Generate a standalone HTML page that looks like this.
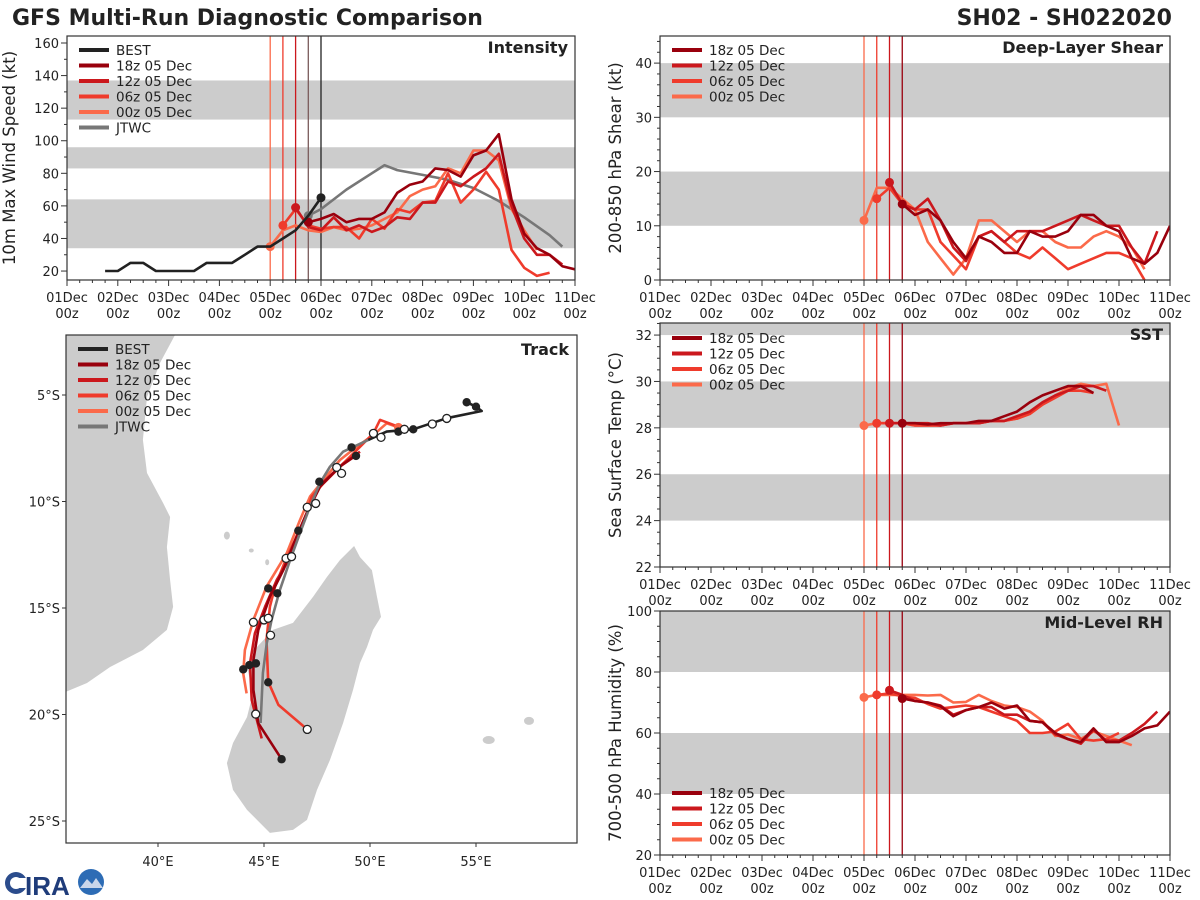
<!DOCTYPE html>
<html><head><meta charset="utf-8"><style>
body{margin:0;background:#fff;}
svg{font-family:"DejaVu Sans","Liberation Sans",sans-serif;display:block;}
</style></head><body>
<svg id="s" width="1200" height="900" viewBox="0 0 1200 900" xmlns="http://www.w3.org/2000/svg">
<text x="12" y="25" font-size="22" font-weight="bold" fill="#222">GFS Multi-Run Diagnostic Comparison</text>
<text x="1172" y="25" font-size="22" font-weight="bold" fill="#222" text-anchor="end">SH02 - SH022020</text>
<g>
<circle cx="16" cy="883" r="11" fill="#2b4c8c"/>
<circle cx="16" cy="883" r="6" fill="#fff"/>
<rect x="16" y="878" width="12" height="10" fill="#fff"/>
<text x="25" y="895" font-size="26" font-weight="bold" fill="#1f3c7a" font-family="Liberation Sans, sans-serif">IRA</text>
<circle cx="91" cy="882" r="13" fill="#2d6cb5"/>
<path d="M80 888 L87 879 L92 884 L96 878 L103 888 Z" fill="#c9d6ea"/>
</g>
</svg>
<script>
// ---------- DATA ----------
const dayLabels=["01Dec","02Dec","03Dec","04Dec","05Dec","06Dec","07Dec","08Dec","09Dec","10Dec","11Dec"];
const runNames=["18z 05 Dec","12z 05 Dec","06z 05 Dec","00z 05 Dec"];
const runStarts=[114,108,102,96];
const bestStart=18;
const bestVmax=[20,20,25,25,20,20,20,20,25,25,25,30,35,35,40,45,54,65];
const jtwcHours=[114,120,132,144,150,156,168,180,192,204,216,228,234];
const jtwcVmax=[54,58,70,80,85,82,79,76,71,63,53,42,35];
const vmax18=[50,52,55,50,52,52,56,68,73,75,83,82,78,91,94,104,64,43,34,30,23,21];
const vmax12=[59,47,45,53,45,48,44,47,53,52,62,62,75,72,78,83,92,60,40,30,30,24];
const vmax06=[48,58,48,46,47,47,40,52,46,58,56,62,63,80,62,70,81,70,33,22,17,19];
const vmax00=[35,45,48,45,44,47,45,46,48,52,56,66,70,72,83,80,94,94,88,58,45,33];
const shr18=[14,12,13,11,7,4,8,7,5,5,9,8,8,9,12,12,10,9,4,3,5,10];
const shr12=[18,14,13,15,11,6,3.5,8,9,7,9,9,9,10,11,12,11,10,10,6,3,9];
const shr06=[15,17,14,13,13,7,4.5,2,8,9,7,5,4,6,4,2,3,4,5,5,4,0];
const shr00=[11,17,17,15,13,7,4,1,4,11,11,9,7,9,9,7,6,6,8,9,8,6,2];
const sst18=[28.2,28.2,28.15,28.2,28.2,28.2,28.3,28.3,28.5,28.7,29.1,29.4,29.6,29.8,29.8,29.5];
const sst12=[28.2,28.2,28.2,28.2,28.1,28.2,28.2,28.2,28.3,28.3,28.5,28.7,29.1,29.4,29.6,29.8,29.8,29.6];
const sst06=[28.2,28.2,28.2,28.1,28.1,28.1,28.2,28.2,28.2,28.3,28.3,28.4,28.6,29.0,29.3,29.6,29.6,29.5];
const sst00=[28.1,28.2,28.2,28.2,28.1,28.1,28.1,28.2,28.2,28.2,28.3,28.3,28.4,28.6,29.0,29.4,29.7,29.9,29.8,29.9,28.1];
const rh18=[71.3,70.5,70,68.8,65.5,67.5,68.5,70,68,69,64,63.5,60,58,57,61.5,57,57,59,61.5,62.5,67];
const rh12=[74,72.5,70.5,70,69,66,67.5,68.5,68.5,66,66,64,63.5,59.5,58,56.5,61,57.5,57.5,60,63,67];
const rh06=[72.5,73,72,71.5,69.5,68,68.5,69,68.5,67,65.5,64,60,60,60.5,63,58,57.5,58,60];
const rh00=[71.7,72.5,72.5,72.5,72.5,72.3,72.5,70,70.2,72.5,70.5,69,68.5,67,64,59,59.5,58,60.5,59,57.5,56];
// track (lon E, lat S)
const bestLon=[54.56,55.0,55.27,53.62,52.04,50.79,49.92];
const bestLat=[5.34,5.55,5.75,6.09,6.61,6.72,7.11];
const jtwcLon=[49.92,48.73,48.11,47.64,47.17,46.70,46.23,45.75,45.36,45.13,44.95,44.84];
const jtwcLat=[7.11,7.66,8.37,9.13,10.24,11.48,12.75,14.15,15.56,16.64,18.05,20.40];
const trk18Lon=[49.37,48.58,47.64,47.01,46.54,45.91,45.28,44.73,44.50,44.50,44.73,45.20,45.83];
const trk18Lat=[7.82,8.36,9.30,10.56,11.65,13.22,14.47,16.03,17.44,18.85,20.41,21.12,22.10];
const trk12Lon=[49.53,48.74,47.72,47.09,46.62,46.07,45.60,45.05,44.57,44.34,44.42,44.89];
const trk12Lat=[7.66,8.21,9.15,10.40,11.49,12.90,13.69,14.94,16.19,17.60,19.32,21.12];
const trk06Lon=[51.34,50.47,50.16,49.53,48.74,47.80,47.25,47.01,46.54,45.99,45.52,45.28,45.12,45.20,45.68,47.04];
const trk06Lat=[6.49,6.17,6.80,7.43,8.21,9.15,9.77,10.56,11.65,12.82,14.00,14.94,16.50,18.46,19.55,20.70];
const trk00Lon=[51.34,50.79,50.16,49.37,48.58,47.80,47.17,46.70,46.07,45.12,44.50,44.10,44.02,44.18];
const trk00Lat=[6.52,6.33,6.88,7.43,8.05,8.99,9.77,10.87,12.43,14.00,15.56,16.97,18.07,19.01];
const fillLon=[54.56,55.0,52.04,51.34,49.13,49.34,47.61,46.62,45.20,45.63,44.02,44.31,44.62,45.20,45.83];
const fillLat=[5.34,5.55,6.61,6.72,7.46,7.86,9.07,11.37,14.08,14.31,17.88,17.68,17.60,18.49,22.10];
const openLon=[53.62,52.94,51.62,50.16,50.52,48.43,48.66,47.04,47.44,46.04,46.30,44.50,45.0,45.20,45.31,44.61,47.04];
const openLat=[6.10,6.36,6.61,6.80,6.99,8.40,8.68,10.27,10.09,12.67,12.59,15.67,15.56,15.48,16.28,19.98,20.70];
const madLon=[49.25,49.53,50.09,50.33,50.52,50.14,49.86,49.53,49.20,48.73,48.11,47.50,47.03,46.37,45.28,44.20,43.54,43.25,43.54,44.20,44.48,44.20,44.67,45.42,46.37,46.84,47.31,47.97,48.58];
const madLat=[12.09,12.61,13.22,14.48,15.42,16.03,16.83,17.58,18.85,20.40,22.14,23.54,24.95,25.42,25.56,24.48,23.54,22.28,21.34,20.12,18.99,17.77,16.83,16.03,15.70,15.09,14.48,13.54,12.75];
const afrLon=[35.0,40.90,40.09,39.48,39.29,39.48,40.24,40.57,40.42,40.57,40.71,40.42,39.29,37.74,36.65,35.0];
const afrLat=[2.0,2.0,3.50,5.09,7.11,8.66,10.07,10.73,12.14,13.69,14.95,16.03,16.97,17.77,18.52,19.2];
const lonTicks=[40,45,50,55];
const latTicks=[5,10,15,20,25];

// ---------- DRAWING ----------
const NS="http://www.w3.org/2000/svg";
const svg=document.getElementById('s');
const C18="#99000d",C12="#cb181d",C06="#ef3b2c",C00="#fb6a4a",CB="#222222",CJ="#777777";
const runColors=[C18,C12,C06,C00];
function mk(tag,attrs,parent){const e=document.createElementNS(NS,tag);for(const k in attrs)e.setAttribute(k,attrs[k]);(parent||svg).appendChild(e);return e;}
function txt(x,y,s,attrs,parent){const e=mk('text',Object.assign({x:x,y:y,'font-size':13,fill:'#222'},attrs||{}),parent);e.textContent=s;return e;}
let clipId=0;

function timePanel(cfg){
  const g=mk('g',{});
  
  
  const X=h=>cfg.x0+h/240*(cfg.x1-cfg.x0);
  const Y=v=>cfg.yb-(v-cfg.vmin)/(cfg.vmax-cfg.vmin)*(cfg.yb-cfg.yt);
  const cid='c'+(clipId++);
  const cp=mk('clipPath',{id:cid},g);
  mk('rect',{x:cfg.x0,y:cfg.yt,width:cfg.x1-cfg.x0,height:cfg.yb-cfg.yt},cp);
  const pg=mk('g',{'clip-path':'url(#'+cid+')'},g);
  cfg.bands.forEach(b=>{
    const r=mk('rect',{x:cfg.x0,y:Y(b[1]),width:cfg.x1-cfg.x0,height:Y(b[0])-Y(b[1]),fill:'#cccccc'},pg);
    
    
  });
  cfg.vlines.forEach(v=>{
    const l=mk('line',{x1:X(v[0]),x2:X(v[0]),y1:cfg.yt,y2:cfg.yb,stroke:v[1],'stroke-width':1.3},pg);
    
    
  });
  cfg.series.forEach(s=>{
    const pts=s.vals.map((v,i)=>X(s.hours?s.hours[i]:s.start+6*i).toFixed(1)+','+Y(v).toFixed(1)).join(' ');
    const p=mk('polyline',{points:pts,fill:'none',stroke:s.color,'stroke-width':2.6,'stroke-linejoin':'round'},pg);
    
    
    (s.dots||[]).forEach(di=>{
      const c=mk('circle',{cx:X(s.hours?s.hours[di]:s.start+6*di),cy:Y(s.vals[di]),r:4.5,fill:s.color},pg);
      
      
    });
  });
  mk('rect',{x:cfg.x0,y:cfg.yt,width:cfg.x1-cfg.x0,height:cfg.yb-cfg.yt,fill:'none',stroke:'#333','stroke-width':1.2},g);
  for(let h=0;h<=240;h+=6){
    const major=h%24===0;
    mk('line',{x1:X(h),x2:X(h),y1:cfg.yb,y2:cfg.yb+(major?6:3),stroke:'#333','stroke-width':1},g);
  }
  dayLabels.forEach((d,i)=>{
    const t1=txt(X(i*24),cfg.yb+22,d,{'text-anchor':'middle'},g);
    
    
    const t2=txt(X(i*24),cfg.yb+38,'00z',{'text-anchor':'middle'},g);
    
    
  });
  for(let v=cfg.tick0;v<=cfg.vmax+1e-6;v+=cfg.minor){
    if(v<cfg.vmin)continue;
    const isMaj=Math.abs(((v-cfg.tick0)/cfg.major)-Math.round((v-cfg.tick0)/cfg.major))<1e-6;
    mk('line',{x1:cfg.x0,x2:cfg.x0-(isMaj?6:3),y1:Y(v),y2:Y(v),stroke:'#333','stroke-width':1},g);
    if(isMaj){
      const t=txt(cfg.x0-8,Y(v)+5,String(Math.round(v)),{'text-anchor':'end'},g);
      
      
    }
  }
  const yc=(cfg.yt+cfg.yb)/2;
  const yl=txt(cfg.ylx,yc,cfg.ylabel,{'text-anchor':'middle','font-size':16.5,transform:'rotate(-90 '+cfg.ylx+' '+yc+')'},g);
  
  
  const tt=txt(cfg.x1-7,cfg.yt+17,cfg.title,{'text-anchor':'end','font-size':16,'font-weight':'bold'},g);
  
  
  legend(g,cfg.x0+12,cfg.legY,cfg.legend);
}
function legend(g,x,y,items){
  const lg=mk('g',{},g);
  
  
  items.forEach((it,i)=>{
    const yy=y+i*15.5;
    const l=mk('line',{x1:x,x2:x+30,y1:yy,y2:yy,stroke:it[1],'stroke-width':4},lg);
    
    
    const t=txt(x+37,yy+5,it[0],{'font-size':13.5},lg);
    
    
  });
}
const runLegend=runNames.map((n,i)=>[n,runColors[i]]);
const initLines=runStarts.slice().reverse().map((h,i)=>[h,[C00,C06,C12,C18][i]]);

timePanel({name:'intensity-panel',x0:67,x1:575,yt:36,yb:280,vmin:14.5,vmax:164.3,tick0:20,major:20,minor:10,
  bands:[[34,64],[83,96],[113,137]],
  vlines:[[96,C00],[102,C06],[108,C12],[114,'#7a5a5a'],[120,CB]],
  series:[
    {name:'jtwc-intensity',hours:jtwcHours,vals:jtwcVmax,color:CJ,dots:[0]},
    {name:'run-00z-intensity',start:runStarts[3],vals:vmax00,color:C00,dots:[0]},
    {name:'run-06z-intensity',start:runStarts[2],vals:vmax06,color:C06,dots:[0]},
    {name:'run-12z-intensity',start:runStarts[1],vals:vmax12,color:C12,dots:[0]},
    {name:'run-18z-intensity',start:runStarts[0],vals:vmax18,color:C18,dots:[0]},
    {name:'best-intensity',start:bestStart,vals:bestVmax,color:CB,dots:[bestVmax.length-1]}],
  ylabel:'10m Max Wind Speed (kt)',ylx:15,title:'Intensity',legY:50,
  legend:[['BEST',CB]].concat(runLegend).concat([['JTWC',CJ]])});

timePanel({name:'shear-panel',x0:660,x1:1170,yt:36,yb:280,vmin:0,vmax:45,tick0:0,major:10,minor:2,
  bands:[[10,20],[30,40]],vlines:initLines,
  series:[
    {name:'run-00z-shear',start:runStarts[3],vals:shr00,color:C00,dots:[0]},
    {name:'run-06z-shear',start:runStarts[2],vals:shr06,color:C06,dots:[0]},
    {name:'run-12z-shear',start:runStarts[1],vals:shr12,color:C12,dots:[0]},
    {name:'run-18z-shear',start:runStarts[0],vals:shr18,color:C18,dots:[0]}],
  ylabel:'200-850 hPa Shear (kt)',ylx:621,title:'Deep-Layer Shear',legY:50,legend:runLegend});

timePanel({name:'sst-panel',x0:660,x1:1170,yt:323,yb:567,vmin:22,vmax:32.52,tick0:22,major:2,minor:0.5,
  bands:[[24,26],[28,30],[32,34]],vlines:initLines,
  series:[
    {name:'run-00z-sst',start:runStarts[3],vals:sst00,color:C00,dots:[0]},
    {name:'run-06z-sst',start:runStarts[2],vals:sst06,color:C06,dots:[0]},
    {name:'run-12z-sst',start:runStarts[1],vals:sst12,color:C12,dots:[0]},
    {name:'run-18z-sst',start:runStarts[0],vals:sst18,color:C18,dots:[0]}],
  ylabel:'Sea Surface Temp (°C)',ylx:621,title:'SST',legY:338,legend:runLegend});

timePanel({name:'rh-panel',x0:660,x1:1170,yt:611,yb:855,vmin:20,vmax:100,tick0:20,major:20,minor:5,
  bands:[[40,60],[80,100]],vlines:initLines,
  series:[
    {name:'run-00z-rh',start:runStarts[3],vals:rh00,color:C00,dots:[0]},
    {name:'run-06z-rh',start:runStarts[2],vals:rh06,color:C06,dots:[0]},
    {name:'run-12z-rh',start:runStarts[1],vals:rh12,color:C12,dots:[0]},
    {name:'run-18z-rh',start:runStarts[0],vals:rh18,color:C18,dots:[0]}],
  ylabel:'700-500 hPa Humidity (%)',ylx:621,title:'Mid-Level RH',legY:793,legend:runLegend});

// ---------- TRACK MAP ----------
(function(){
  const x0=66,x1=577,yt=335,yb=843;
  const LX=lon=>264+(lon-45)*21.2;
  const LY=lat=>395+(lat-5)*21.3;
  const g=mk('g',{});
  
  
  const cp=mk('clipPath',{id:'trkclip'},g);
  mk('rect',{x:x0,y:yt,width:x1-x0,height:yb-yt},cp);
  const pg=mk('g',{'clip-path':'url(#trkclip)'},g);
  const poly=(lons,lats)=>lons.map((l,i)=>LX(l).toFixed(1)+','+LY(lats[i]).toFixed(1)).join(' ');
  const afr=mk('polygon',{points:poly(afrLon,afrLat),fill:'#cccccc'},pg);
  
  
  const mad=mk('polygon',{points:poly(madLon,madLat),fill:'#cccccc'},pg);
  
  
  [[43.25,11.6,3,4],[44.4,12.3,2.5,2],[45.15,12.85,2,3],[57.5,20.3,5,4],[55.6,21.2,6,4]].forEach(p=>{
    const e=mk('ellipse',{cx:LX(p[0]),cy:LY(p[1]),rx:p[2],ry:p[3],fill:'#cccccc'},pg);
    
    
  });
  const tracks=[['run-00z-track',trk00Lon,trk00Lat,C00],['run-06z-track',trk06Lon,trk06Lat,C06],['run-12z-track',trk12Lon,trk12Lat,C12],['run-18z-track',trk18Lon,trk18Lat,C18],['jtwc-track',jtwcLon,jtwcLat,CJ],['best-track',bestLon,bestLat,CB]];
  tracks.forEach(t=>{
    const p=mk('polyline',{points:poly(t[1],t[2]),fill:'none',stroke:t[3],'stroke-width':2.6,'stroke-linejoin':'round'},pg);
    
    
  });
  const s0=mk('circle',{cx:LX(trk00Lon[0]),cy:LY(trk00Lat[0]),r:4.5,fill:C00},pg);
  
  
  fillLon.forEach((l,i)=>{
    const c=mk('circle',{cx:LX(l),cy:LY(fillLat[i]),r:4.2,fill:'#222'},pg);
    
    
  });
  openLon.forEach((l,i)=>{
    const c=mk('circle',{cx:LX(l),cy:LY(openLat[i]),r:4,fill:'#fff',stroke:'#222','stroke-width':1.3},pg);
    
    
  });
  mk('rect',{x:x0,y:yt,width:x1-x0,height:yb-yt,fill:'none',stroke:'#333','stroke-width':1.2},g);
  lonTicks.forEach(l=>{
    mk('line',{x1:LX(l),x2:LX(l),y1:yb,y2:yb+4,stroke:'#333'},g);
    const t=txt(LX(l),yb+23,l+'°E',{'text-anchor':'middle'},g);
    
    
  });
  latTicks.forEach(l=>{
    mk('line',{x1:x0,x2:x0-4,y1:LY(l),y2:LY(l),stroke:'#333'},g);
    const t=txt(x0-6,LY(l)+5,l+'°S',{'text-anchor':'end'},g);
    
    
  });
  const tt=txt(x1-8,yt+20,'Track',{'text-anchor':'end','font-size':16,'font-weight':'bold'},g);
  
  
  legend(g,x0+12,yt+14,[['BEST',CB]].concat(runLegend).concat([['JTWC',CJ]]));
})();
</script>
</body></html>
